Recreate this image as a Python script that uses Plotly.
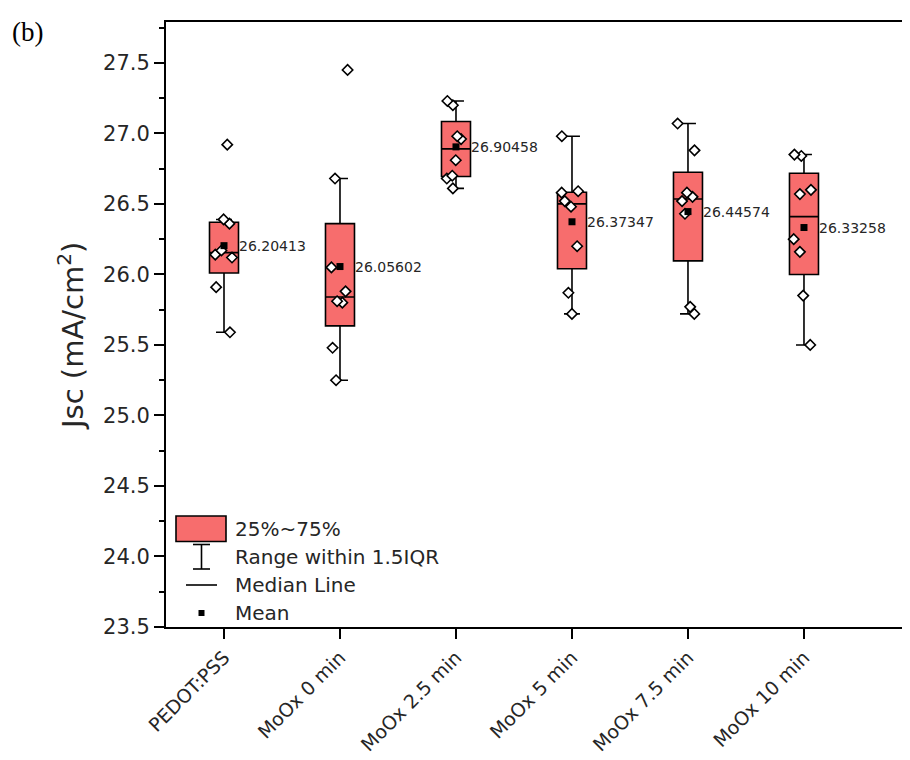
import plotly.graph_objects as go

# ---------------- data ----------------
categories = ["PEDOT:PSS", "MoOx 0 min", "MoOx 2.5 min", "MoOx 5 min", "MoOx 7.5 min", "MoOx 10 min"]

pts_pedot = [26.92, 26.39, 26.36, 26.17, 26.14, 26.12, 25.91, 25.59]
pts_moox0 = [27.45, 26.68, 26.05, 25.88, 25.81, 25.80, 25.48, 25.25]
pts_moox25 = [27.23, 27.20, 26.98, 26.96, 26.81, 26.70, 26.68, 26.61]
pts_moox5 = [26.98, 26.59, 26.58, 26.52, 26.48, 26.20, 25.87, 25.72]
pts_moox75 = [27.07, 26.88, 26.58, 26.55, 26.52, 26.43, 25.77, 25.72]
pts_moox10 = [26.85, 26.84, 26.60, 26.57, 26.25, 26.16, 25.85, 25.50]
points = [pts_pedot, pts_moox0, pts_moox25, pts_moox5, pts_moox75, pts_moox10]

q1 = [26.01, 25.635, 26.694, 26.04, 26.096, 26.00]
median = [26.155, 25.84, 26.89, 26.50, 26.535, 26.41]
q3 = [26.37, 26.36, 27.084, 26.583, 26.725, 26.718]
lower_fence = [25.59, 25.25, 26.61, 25.72, 25.72, 25.50]
upper_fence = [26.39, 26.68, 27.23, 26.98, 27.07, 26.85]
means = [26.20413, 26.05602, 26.90458, 26.37347, 26.44574, 26.33258]

y_ticks = [23.5, 24.0, 24.5, 25.0, 25.5, 26.0, 26.5, 27.0, 27.5]

# ---------------- style ----------------
BOX_FILL = "#F76D6D"
FONT = "DejaVu Sans"
TXT = "#262626"

OFF = 8  # page body margin of the html page
W, H = 910 - OFF, 760 - OFF
ML, MR, MT, MB = 166 - OFF, 0, 22 - OFF, 133
PW, PH = W - ML - MR, H - MT - MB


def px(x):
    # page pixel -> paper coordinate
    return (x - OFF - ML) / PW


def py(y):
    return (H - MB - (y - OFF)) / PH


fig = go.Figure()

# boxes from precomputed statistics
fig.add_trace(go.Box(
    x=categories, q1=q1, median=median, q3=q3,
    lowerfence=lower_fence, upperfence=upper_fence,
    boxpoints=False, width=0.25, whiskerwidth=0.55,
    fillcolor=BOX_FILL, line=dict(color="black", width=1.6),
    showlegend=False, hoverinfo="skip",
))

# raw data points (jittered by the library)
xs, ys = [], []
for c, vals in zip(categories, points):
    xs += [c] * len(vals)
    ys += vals
fig.add_trace(go.Box(
    x=xs, y=ys, boxpoints="all", jitter=0.85, pointpos=0, width=0.25,
    fillcolor="rgba(0,0,0,0)", line=dict(color="rgba(0,0,0,0)", width=0),
    marker=dict(symbol="diamond", size=8, color="white",
                line=dict(color="black", width=1.6)),
    showlegend=False, hoverinfo="y",
))

# means
fig.add_trace(go.Scatter(
    x=categories, y=means, mode="markers",
    marker=dict(symbol="square", size=7, color="black"),
    showlegend=False, hoverinfo="y",
))

annotations = []
for c, m in zip(categories, means):
    annotations.append(dict(
        x=c, y=m, xref="x", yref="y", text=f"{m:.5f}", showarrow=False,
        xanchor="left", yanchor="middle", xshift=13,
        font=dict(family=FONT, size=14, color=TXT),
    ))

# legend (custom)
shapes = [
    dict(type="rect", xref="paper", yref="paper",
         x0=px(176), x1=px(226), y0=py(541.5), y1=py(516),
         fillcolor=BOX_FILL, line=dict(color="black", width=1.6)),
    dict(type="line", xref="paper", yref="paper",
         x0=px(201.5), x1=px(201.5), y0=py(569), y1=py(544.5),
         line=dict(color="black", width=1.6)),
    dict(type="line", xref="paper", yref="paper",
         x0=px(193), x1=px(210), y0=py(569), y1=py(569),
         line=dict(color="black", width=1.6)),
    dict(type="line", xref="paper", yref="paper",
         x0=px(193), x1=px(210), y0=py(544.5), y1=py(544.5),
         line=dict(color="black", width=1.6)),
    dict(type="line", xref="paper", yref="paper",
         x0=px(186), x1=px(217), y0=py(585), y1=py(585),
         line=dict(color="black", width=1.6)),
    dict(type="rect", xref="paper", yref="paper",
         x0=px(198.5), x1=px(204.5), y0=py(616), y1=py(610),
         fillcolor="black", line=dict(color="black", width=0)),
]
legend_texts = [("25%~75%", 529), ("Range within 1.5IQR", 557),
                ("Median Line", 585), ("Mean", 613)]
for t, yy in legend_texts:
    annotations.append(dict(
        x=px(233), y=py(yy), xref="paper", yref="paper", text=t,
        showarrow=False, xanchor="left", yanchor="middle",
        font=dict(family=FONT, size=20, color=TXT),
    ))

# y-axis title and panel label
annotations.append(dict(
    x=px(71), y=py(336), xref="paper", yref="paper",
    text="Jsc (mA/cm<sup>2</sup>)", textangle=-90, showarrow=False,
    xanchor="center", yanchor="middle",
    font=dict(family=FONT, size=29, color=TXT),
))
annotations.append(dict(
    x=px(10), y=py(32), xref="paper", yref="paper", text="(b)",
    showarrow=False, xanchor="left", yanchor="middle",
    font=dict(family="Liberation Serif", size=27, color="black"),
))

fig.update_layout(
    width=W, height=H,
    margin=dict(l=ML, r=MR, t=MT, b=MB, pad=0),
    paper_bgcolor="white", plot_bgcolor="white",
    boxmode="overlay",
    showlegend=False,
    shapes=shapes,
    annotations=annotations,
    xaxis=dict(
        type="category", categoryorder="array", categoryarray=categories,
        range=[-0.5, 5.914],
        showline=True, linecolor="black", linewidth=2, mirror=True,
        ticks="outside", ticklen=10, tickwidth=2, tickcolor="black",
        tickangle=-45, showgrid=False, zeroline=False,
        tickfont=dict(family=FONT, size=19, color=TXT),
    ),
    yaxis=dict(
        range=[23.5, 27.79],
        tickvals=y_ticks, ticktext=[f"{v:.1f}" for v in y_ticks],
        showline=True, linecolor="black", linewidth=2,
        ticks="outside", ticklen=10, tickwidth=2, tickcolor="black",
        minor=dict(ticks="outside", ticklen=5, tickwidth=2, tickcolor="black", dtick=0.25),
        showgrid=False, zeroline=False,
        tickfont=dict(family=FONT, size=21, color=TXT),
    ),
)

fig.write_html("out.html")
